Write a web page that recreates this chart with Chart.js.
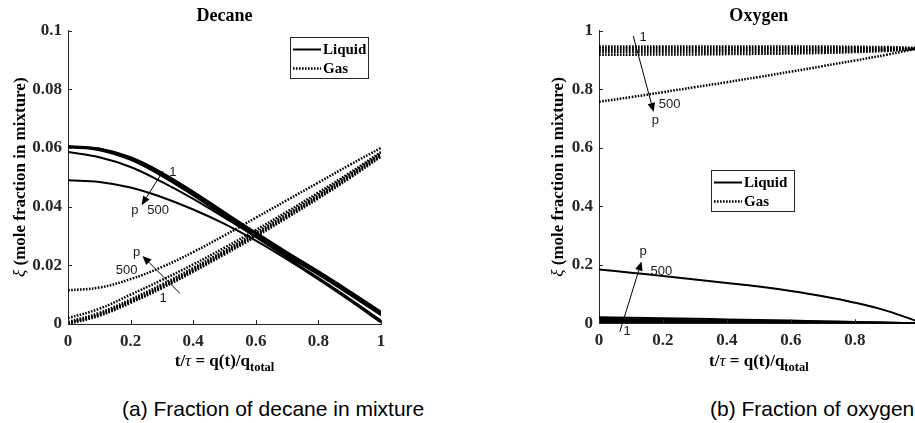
<!DOCTYPE html>
<html>
<head>
<meta charset="utf-8">
<script src="https://cdn.jsdelivr.net/npm/chart.js@4.4.0/dist/chart.umd.min.js"></script>
<style>
html, body { margin: 0; padding: 0; background: #fff; overflow: hidden; width: 915px; height: 423px; }
.wrap { position: absolute; top: 0; }
.cap { position: absolute; font-family: "Liberation Sans", Arial, sans-serif; font-size: 21px; line-height: 24px; color: #000; white-space: nowrap; }
</style>
</head>
<body>
<div class="wrap" style="left:0px"><canvas id="decane" width="400" height="380"></canvas></div>
<div class="wrap" style="left:530px"><canvas id="oxygen" width="400" height="380"></canvas></div>
<div class="cap" style="left:122px;top:397px">(a) Fraction of decane in mixture</div>
<div class="cap" style="left:710px;top:397px">(b) Fraction of oxygen</div>
<script>
// t/tau sample points
const xs = [0, 0.1, 0.2, 0.3, 0.4, 0.5, 0.6, 0.7, 0.8, 0.9, 1];

// decane, one row per pressure (1 ... 500)
const decaneLiquid = [
  [0.0606, 0.0598, 0.0568, 0.0516, 0.0451, 0.0381, 0.0312, 0.0245, 0.0180, 0.0112, 0.0042],
  [0.0605, 0.0597, 0.0566, 0.0513, 0.0447, 0.0377, 0.0308, 0.0241, 0.0177, 0.0109, 0.0039],
  [0.0604, 0.0595, 0.0563, 0.0509, 0.0443, 0.0373, 0.0304, 0.0237, 0.0173, 0.0105, 0.0035],
  [0.0602, 0.0592, 0.0559, 0.0504, 0.0438, 0.0368, 0.0299, 0.0232, 0.0168, 0.0100, 0.0030],
  [0.0586, 0.0568, 0.0535, 0.0484, 0.0426, 0.0362, 0.0296, 0.0226, 0.0157, 0.0086, 0.0012],
  [0.0490, 0.0484, 0.0465, 0.0432, 0.0390, 0.0341, 0.0284, 0.0220, 0.0152, 0.0080, 0.0005]
];
const decaneGas = [
  [0.0000, 0.0028, 0.0072, 0.0122, 0.0178, 0.0237, 0.0298, 0.0362, 0.0428, 0.0497, 0.0570],
  [0.0002, 0.0031, 0.0076, 0.0126, 0.0182, 0.0241, 0.0302, 0.0366, 0.0432, 0.0501, 0.0574],
  [0.0004, 0.0034, 0.0079, 0.0130, 0.0186, 0.0245, 0.0306, 0.0370, 0.0436, 0.0505, 0.0578],
  [0.0007, 0.0038, 0.0084, 0.0135, 0.0191, 0.0250, 0.0311, 0.0375, 0.0441, 0.0510, 0.0582],
  [0.0020, 0.0052, 0.0100, 0.0150, 0.0203, 0.0260, 0.0320, 0.0383, 0.0448, 0.0515, 0.0586],
  [0.0115, 0.0124, 0.0153, 0.0194, 0.0245, 0.0302, 0.0362, 0.0422, 0.0482, 0.0542, 0.0600]
];

// oxygen
const oxygenLiquid = [
  [0.004, 0.0036, 0.0032, 0.0028, 0.0024, 0.0020, 0.0016, 0.0012, 0.0008, 0.0004, 0.0],
  [0.007, 0.0063, 0.0056, 0.0049, 0.0042, 0.0035, 0.0028, 0.0021, 0.0014, 0.0007, 0.0],
  [0.011, 0.0099, 0.0088, 0.0077, 0.0066, 0.0055, 0.0044, 0.0033, 0.0022, 0.0011, 0.0],
  [0.015, 0.0136, 0.0122, 0.0107, 0.0092, 0.0077, 0.0062, 0.0047, 0.0031, 0.0016, 0.0],
  [0.021, 0.0192, 0.0173, 0.0154, 0.0134, 0.0114, 0.0093, 0.0071, 0.0048, 0.0025, 0.0],
  [0.184, 0.173, 0.162, 0.150, 0.138, 0.1255, 0.1105, 0.0925, 0.0705, 0.0425, 0.0050]
];
const oxygenGas = [
  [0.946, 0.946, 0.946, 0.946, 0.946, 0.946, 0.946, 0.946, 0.945, 0.944, 0.941],
  [0.940, 0.940, 0.940, 0.940, 0.940, 0.940, 0.940, 0.940, 0.940, 0.940, 0.940],
  [0.934, 0.934, 0.934, 0.934, 0.934, 0.935, 0.935, 0.935, 0.936, 0.937, 0.940],
  [0.927, 0.927, 0.927, 0.928, 0.928, 0.928, 0.929, 0.930, 0.931, 0.934, 0.939],
  [0.918, 0.918, 0.919, 0.919, 0.920, 0.921, 0.922, 0.924, 0.927, 0.931, 0.938],
  [0.757, 0.773, 0.790, 0.807, 0.824, 0.842, 0.860, 0.879, 0.898, 0.918, 0.940]
];

const axisColor = '#262626';
const serif = '"Liberation Serif", "Times New Roman", serif';
const sans = '"Liberation Sans", Arial, sans-serif';

const toSet = (rows, dotted) => rows.map(r => ({
  data: xs.map((x, i) => ({ x: x, y: r[i] })),
  borderColor: '#000',
  borderWidth: dotted ? 2.5 : 2,
  borderDash: dotted ? [1.6, 1.4] : [],
  pointRadius: 0,
  tension: 0.4,
  fill: false
}));

const fmt = v => String(+v.toFixed(4));

// titles, axis labels, legend box, inward ticks, arrows
const deco = {
  id: 'deco',
  afterDraw(chart, args, o) {
    const { ctx, chartArea: a, scales: { x, y } } = chart;
    ctx.save();
    ctx.strokeStyle = axisColor;
    ctx.lineWidth = 1;
    x.ticks.forEach(t => {
      const px = Math.round(x.getPixelForValue(t.value)) + 0.5;
      ctx.beginPath(); ctx.moveTo(px, a.bottom); ctx.lineTo(px, a.bottom - 4); ctx.stroke();
    });
    y.ticks.forEach(t => {
      const py = Math.round(y.getPixelForValue(t.value)) + 0.5;
      ctx.beginPath(); ctx.moveTo(a.left, py); ctx.lineTo(a.left + 4, py); ctx.stroke();
    });

    const cx = (a.left + a.right) / 2;
    ctx.fillStyle = '#000';
    ctx.textBaseline = 'middle';
    ctx.textAlign = 'center';
    ctx.font = 'bold 18px ' + serif;
    ctx.fillText(o.title, cx, 16);

    // x label with subscript
    const xl = [['t/', 'bold 17px ' + serif, 0], ['\u03c4', 'italic 17px ' + serif, 0],
                [' = q(t)/q', 'bold 17px ' + serif, 0], ['total', 'bold 12.5px ' + serif, 6]];
    let w = 0;
    xl.forEach(s => { ctx.font = s[1]; w += ctx.measureText(s[0]).width; });
    let sx = cx - w / 2;
    ctx.textAlign = 'left';
    xl.forEach(s => { ctx.font = s[1]; ctx.fillText(s[0], sx, 362 + s[2]); sx += ctx.measureText(s[0]).width; });

    // y label
    ctx.save();
    ctx.translate(o.ylabelX, (a.top + a.bottom) / 2);
    ctx.rotate(-Math.PI / 2);
    const yl = [['\u03be', 'italic 17px ' + serif], [' (mole fraction in mixture)', 'bold 17px ' + serif]];
    w = 0;
    yl.forEach(s => { ctx.font = s[1]; w += ctx.measureText(s[0]).width; });
    sx = -w / 2;
    yl.forEach(s => { ctx.font = s[1]; ctx.fillText(s[0], sx, 0); sx += ctx.measureText(s[0]).width; });
    ctx.restore();

    // legend
    const L = o.legend;
    ctx.fillStyle = '#fff';
    ctx.fillRect(L.left, L.top, L.w, L.h);
    ctx.strokeStyle = axisColor;
    ctx.lineWidth = 1;
    ctx.strokeRect(L.left + 0.5, L.top + 0.5, L.w, L.h);
    [['Liquid', []], ['Gas', [1.6, 1.4]]].forEach((it, i) => {
      const ly = L.top + 12.5 + i * 19;
      ctx.strokeStyle = '#000';
      ctx.lineWidth = it[1].length ? 2.5 : 2;
      ctx.setLineDash(it[1]);
      ctx.beginPath(); ctx.moveTo(L.left + 3, ly); ctx.lineTo(L.left + 31, ly); ctx.stroke();
      ctx.setLineDash([]);
      ctx.fillStyle = '#000';
      ctx.font = 'bold 15px ' + serif;
      ctx.fillText(it[0], L.left + 33, ly + 1);
    });

    // pressure arrows
    ctx.strokeStyle = '#000';
    ctx.fillStyle = '#000';
    ctx.lineWidth = 1;
    o.arrows.forEach(ar => {
      const x0 = x.getPixelForValue(ar.from[0]), y0 = y.getPixelForValue(ar.from[1]);
      const x1 = x.getPixelForValue(ar.to[0]), y1 = y.getPixelForValue(ar.to[1]);
      const ang = Math.atan2(y1 - y0, x1 - x0);
      const hl = 9, hw = 3.8;
      const bx = x1 - hl * Math.cos(ang), by = y1 - hl * Math.sin(ang);
      ctx.beginPath(); ctx.moveTo(x0, y0); ctx.lineTo(bx, by); ctx.stroke();
      ctx.beginPath();
      ctx.moveTo(x1, y1);
      ctx.lineTo(bx + hw * Math.sin(ang), by - hw * Math.cos(ang));
      ctx.lineTo(bx - hw * Math.sin(ang), by + hw * Math.cos(ang));
      ctx.closePath(); ctx.fill();
    });
    ctx.font = '13px ' + sans;
    ctx.textAlign = 'center';
    ctx.fillStyle = '#1a1a1a';
    o.labels.forEach(lb => {
      ctx.fillText(lb.t, x.getPixelForValue(lb.at[0]), y.getPixelForValue(lb.at[1]));
    });
    ctx.restore();
  }
};

function makeChart(id, liquid, gas, ymax, ystep, pad, yw, xh, extra) {
  return new Chart(document.getElementById(id), {
    type: 'line',
    data: { datasets: toSet(liquid, false).concat(toSet(gas, true)) },
    options: {
      responsive: false,
      animation: false,
      layout: { padding: pad },
      plugins: { legend: { display: false }, tooltip: { enabled: false }, deco: extra },
      scales: {
        x: {
          type: 'linear', min: 0, max: 1,
          grid: { display: false, drawTicks: false },
          border: { display: true, color: axisColor, width: 1 },
          ticks: { stepSize: 0.2, padding: 7, maxRotation: 0, color: axisColor,
                   font: { family: serif, weight: 'bold', size: 17 }, callback: fmt },
          afterFit: s => { s.height = xh; }
        },
        y: {
          type: 'linear', min: 0, max: ymax,
          grid: { display: false, drawTicks: false },
          border: { display: true, color: axisColor, width: 1 },
          ticks: { stepSize: ystep, padding: 6, color: axisColor,
                   font: { family: serif, weight: 'bold', size: 17 }, callback: fmt },
          afterFit: s => { s.width = yw; }
        }
      }
    },
    plugins: [deco]
  });
}

makeChart('decane', decaneLiquid, decaneGas, 0.1, 0.02,
  { top: 30.5, right: 19, bottom: 0, left: 0 }, 68, 56, {
    title: 'Decane',
    ylabelX: 21,
    legend: { left: 290, top: 37, w: 78, h: 41 },
    arrows: [{ from: [0.304, 0.0521], to: [0.235, 0.0405] },
             { from: [0.357, 0.0105], to: [0.238, 0.0232] }],
    labels: [{ t: '1', at: [0.335, 0.0518] }, { t: 'p', at: [0.214, 0.0386] },
             { t: '500', at: [0.288, 0.0386] }, { t: '1', at: [0.304, 0.0086] },
             { t: 'p', at: [0.219, 0.0245] }, { t: '500', at: [0.187, 0.0184] }]
  });

makeChart('oxygen', oxygenLiquid, oxygenGas, 1, 0.2,
  { top: 30.7, right: 9.2, bottom: 0, left: 0 }, 69, 56.7, {
    title: 'Oxygen',
    ylabelX: 29,
    legend: { left: 181, top: 170, w: 83, h: 41 },
    arrows: [{ from: [0.107, 0.982], to: [0.171, 0.722] },
             { from: [0.065, -0.029], to: [0.133, 0.211] }],
    labels: [{ t: '1', at: [0.138, 0.977] }, { t: '500', at: [0.221, 0.749] },
             { t: 'p', at: [0.176, 0.695] }, { t: 'p', at: [0.138, 0.245] },
             { t: '500', at: [0.195, 0.176] }, { t: '1', at: [0.088, -0.029] }]
  });
</script>
</body>
</html>
